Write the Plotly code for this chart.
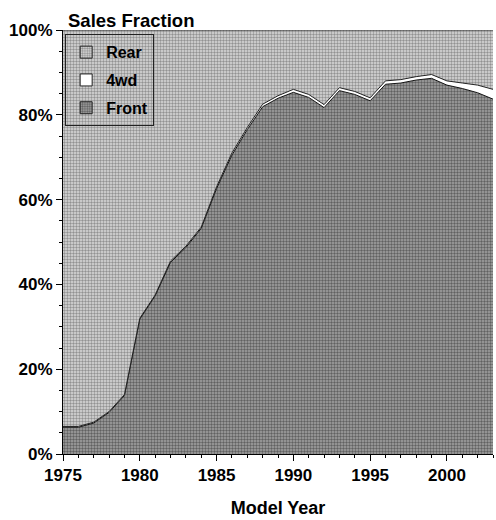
import plotly.graph_objects as go

years = list(range(1975, 2004))
# Front + 4wd combined upper edge (percent)
upper = [6.5, 6.5, 7.5, 10.0, 14.0, 32.0, 37.5, 45.5, 49.0, 53.5,
         63.0, 71.0, 77.0, 82.5, 84.5, 86.0, 84.8, 82.4, 86.4, 85.5,
         84.0, 88.0, 88.3, 89.0, 89.5, 88.0, 87.5, 87.0, 86.0]
fwd4 = [0.2, 0.2, 0.2, 0.2, 0.2, 0.2, 0.2, 0.3, 0.3, 0.3,
        0.4, 0.5, 0.5, 0.6, 0.6, 0.7, 0.7, 0.7, 0.7, 0.7,
        0.7, 0.8, 0.8, 0.8, 0.9, 1.0, 1.3, 1.8, 2.3]
front = [round(u - w, 2) for u, w in zip(upper, fwd4)]
rear = [round(100 - u, 2) for u in upper]
series_names = ["Front", "4wd", "Rear"]

font = "Liberation Sans, Arial, sans-serif"

front_pat = dict(shape=".", fgcolor="#1e1e1e", bgcolor="#a4a4a4", size=3, solidity=0.5)
rear_pat = dict(shape=".", fgcolor="#4a4a4a", bgcolor="#dadada", size=3, solidity=0.5)

fig = go.Figure()
fig.add_trace(go.Scatter(
    x=years, y=front, name=series_names[0], stackgroup="one", mode="lines",
    line=dict(color="#111111", width=1), fillcolor="#9a9a9a",
    fillpattern=front_pat, showlegend=False,
))
fig.add_trace(go.Scatter(
    x=years, y=fwd4, name=series_names[1], stackgroup="one", mode="lines",
    line=dict(color="#222222", width=1), fillcolor="#ffffff", showlegend=False,
))
fig.add_trace(go.Scatter(
    x=years, y=rear, name=series_names[2], stackgroup="one", mode="lines",
    line=dict(color="#222222", width=1), fillcolor="#cfcfcf",
    fillpattern=rear_pat, showlegend=False,
))
# legend swatches (square icons), top to bottom: Rear, 4wd, Front
fig.add_trace(go.Bar(x=[None], y=[None], name=series_names[2], legendgroup="r",
                     marker=dict(color="#cfcfcf", pattern=rear_pat, line=dict(color="#222", width=1))))
fig.add_trace(go.Bar(x=[None], y=[None], name=series_names[1], legendgroup="w",
                     marker=dict(color="#ffffff", line=dict(color="#222", width=1))))
fig.add_trace(go.Bar(x=[None], y=[None], name=series_names[0], legendgroup="f",
                     marker=dict(color="#9a9a9a", pattern=front_pat, line=dict(color="#222", width=1))))

fig.update_layout(
    width=496, height=520,
    margin=dict(l=63, r=3, t=30, b=66),
    paper_bgcolor="white", plot_bgcolor="white",
    font=dict(family=font, size=17, color="black"),
    showlegend=True,
    legend=dict(
        x=0.005, y=0.99, xanchor="left", yanchor="top",
        traceorder="grouped",
        bgcolor="rgba(0,0,0,0)", bordercolor="#222222", borderwidth=1,
        font=dict(family=font, size=16, color="black", weight="bold"),
        tracegroupgap=4, itemwidth=30,
    ),
    annotations=[dict(
        text="<b>Sales Fraction</b>", xref="paper", yref="paper",
        x=0.008, y=1.0, xanchor="left", yanchor="bottom", yshift=-3,
        showarrow=False, font=dict(family=font, size=18.5, color="black"),
    )],
)
fig.update_xaxes(
    range=[1975, 2003], tickmode="linear", tick0=1975, dtick=5,
    ticks="outside", ticklen=6, tickcolor="black", automargin=False,
    minor=dict(dtick=1, ticks="outside", ticklen=3, tickcolor="black"),
    showline=True, linecolor="black", linewidth=1, showgrid=False, zeroline=False,
    tickfont=dict(family=font, size=17, color="black", weight="bold"),
    title=dict(text="<b>Model Year</b>", font=dict(family=font, size=18, color="black"), standoff=16),
)
fig.update_yaxes(
    range=[0, 100], tickmode="linear", tick0=0, dtick=20, ticksuffix="%",
    ticks="outside", ticklen=6, tickcolor="black", automargin=False,
    minor=dict(dtick=5, ticks="outside", ticklen=3, tickcolor="black"),
    showline=True, linecolor="black", linewidth=1, showgrid=False, zeroline=False,
    tickfont=dict(family=font, size=17, color="black", weight="bold"),
)

fig.write_html("out.html", config={"displayModeBar": False},
               post_script="document.body.style.margin='0';document.body.style.overflow='hidden';")
